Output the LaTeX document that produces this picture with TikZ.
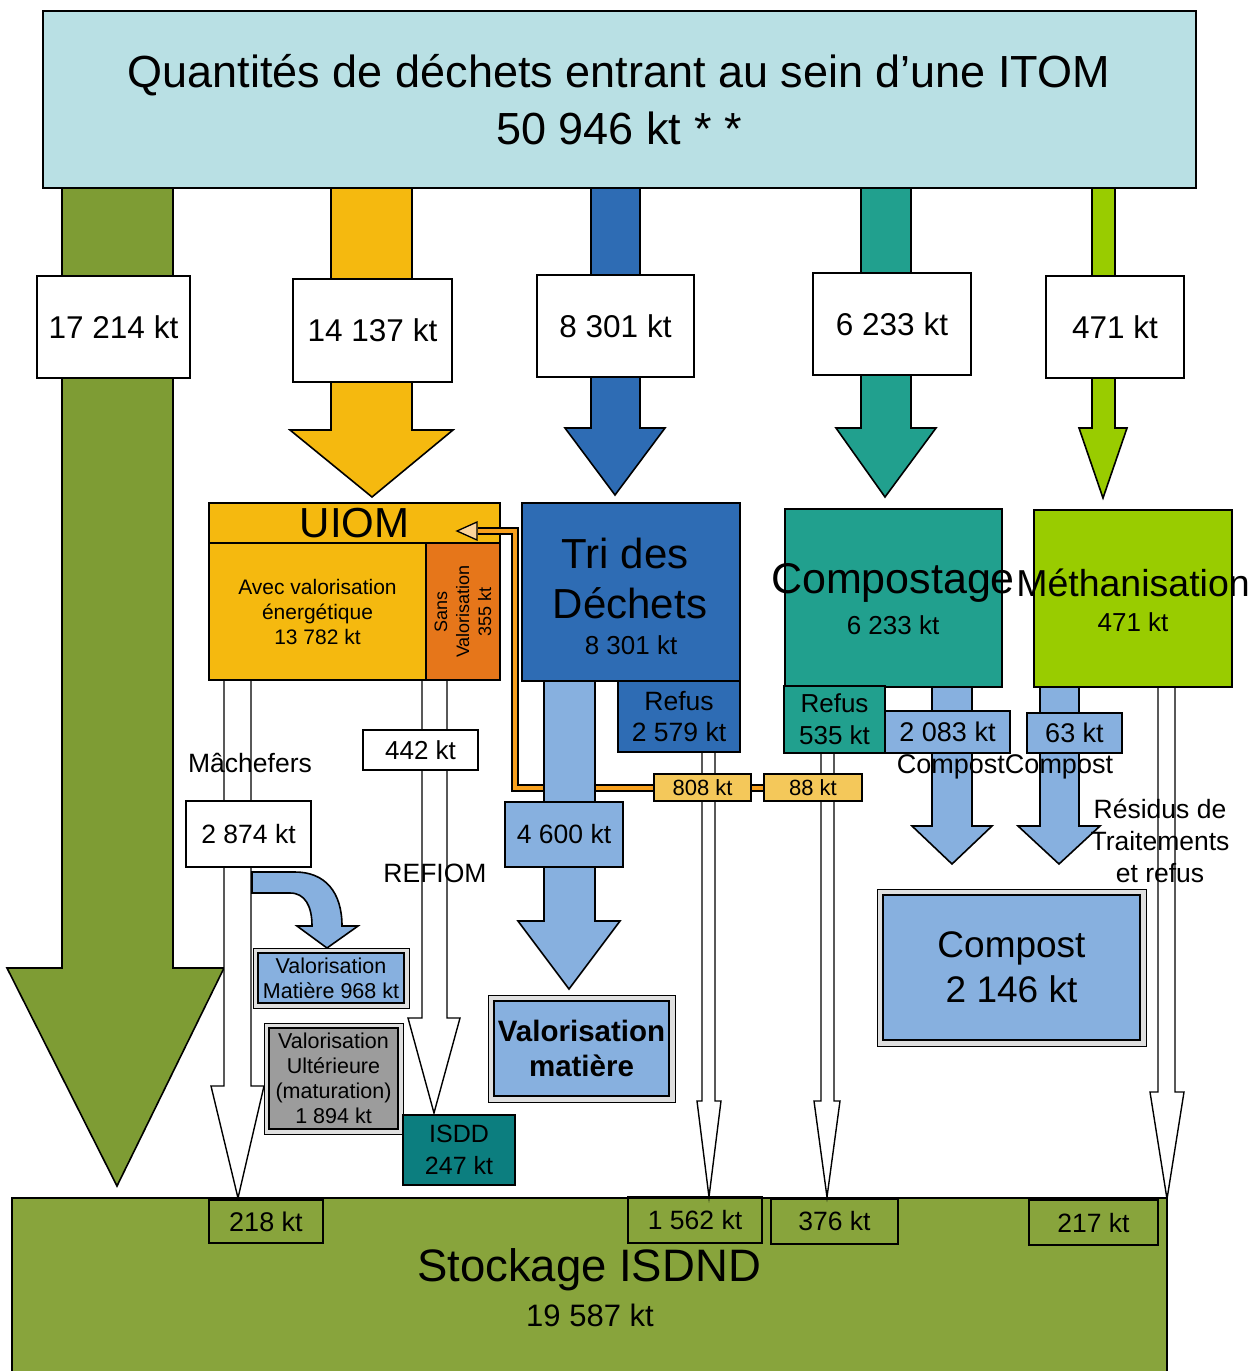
\documentclass[tikz,border=0pt]{standalone}
\usepackage{fontspec}
\setmainfont{Liberation Sans}
\definecolor{titlebg}{HTML}{B9E0E4}
\definecolor{olivegreen}{HTML}{7E9C34}
\definecolor{uiomyel}{HTML}{F5B90F}
\definecolor{sansorange}{HTML}{E6761A}
\definecolor{tribleu}{HTML}{2E6CB4}
\definecolor{compteal}{HTML}{21A08E}
\definecolor{methlime}{HTML}{99CC00}
\definecolor{lightbl}{HTML}{87B0DF}
\definecolor{kbox}{HTML}{F4C85A}
\definecolor{retorange}{HTML}{F7A01E}
\definecolor{isddteal}{HTML}{0C7E7F}
\definecolor{ultgray}{HTML}{9C9C9C}
\definecolor{stockgreen}{HTML}{88A43C}
\newcommand{\fsz}[2]{\fontsize{#1}{#2}\selectfont}
\newcommand{\bx}[7][]{%
  \pgfmathsetmacro{\bxcx}{(#3+#5)/2}%
  \pgfmathsetmacro{\bxcy}{(#4+#6)/2}%
  \pgfmathsetmacro{\bxw}{#5-#3}%
  \pgfmathsetmacro{\bxh}{#6-#4}%
  \node[#1, minimum width=\bxw pt, minimum height=\bxh pt, inner sep=0pt, align=center] (#2) at (\bxcx,\bxcy) {#7};}
\tikzset{
  outl/.style={draw=black, line width=1.6pt, line join=miter},
  thin/.style={draw=black, line width=1pt},
  thick/.style={draw=black, line width=2.6pt},
  lbl/.style={outl, line width=1.3pt, fill=white, font=\fsz{31.5}{36}},
  hollow/.style={draw=black, line width=1.4pt, fill=white, line join=miter},
  txt/.style={inner sep=0pt, align=center},
}
\begin{document}
\begin{tikzpicture}[x=1pt,y=-1pt]
\useasboundingbox (0,0) rectangle (1251,1371);
% ---- Stockage ISDND
\draw[outl, fill=stockgreen] (12,1380) -- (12,1198) -- (1167,1198) -- (1167,1380);
% ---- Title
\bx[outl, fill=titlebg]{title}{43}{11}{1196}{188}{}
\node[txt, font=\fsz{45}{50}] (t1) at (619,75) {Quantités de déchets entrant au sein d’une ITOM};
\node[txt, font=\fsz{45}{50}] (t2) at (619,128) {50 946 kt * *};
% ---- big arrows
\draw[outl, fill=olivegreen] (62,188) -- (173,188) -- (173,968) -- (224,968) -- (117,1186) -- (7,968) -- (62,968) -- cycle;
\draw[outl, fill=uiomyel] (331,188) -- (412,188) -- (412,430) -- (453,430) -- (372,497) -- (290,430) -- (331,430) -- cycle;
\draw[outl, fill=tribleu] (591,188) -- (640,188) -- (640,428) -- (665,428) -- (615,495) -- (565,428) -- (591,428) -- cycle;
\draw[outl, fill=compteal] (861,188) -- (911,188) -- (911,428) -- (936,428) -- (885,497) -- (836,428) -- (861,428) -- cycle;
\draw[outl, fill=methlime] (1092,188) -- (1115,188) -- (1115,428) -- (1127,428) -- (1103,498) -- (1079,428) -- (1092,428) -- cycle;
\bx[lbl]{l1}{37}{276}{190}{378}{17 214 kt}
\bx[lbl]{l2}{293}{279}{452}{382}{14 137 kt}
\bx[lbl]{l3}{537}{275}{694}{377}{8 301 kt}
\bx[lbl]{l4}{813}{273}{971}{375}{6 233 kt}
\bx[lbl]{l5}{1046}{276}{1184}{378}{471 kt}
% ---- hollow white arrows
\draw[hollow] (224,680) -- (224,1086) -- (211,1086) -- (238,1198) -- (264,1086) -- (251,1086) -- (251,680) -- cycle;
\draw[hollow] (422,680) -- (422,1018) -- (408,1018) -- (434,1113) -- (460,1018) -- (447,1018) -- (447,680) -- cycle;
\draw[hollow] (702,752) -- (702,1101) -- (697,1101) -- (709,1197) -- (721,1101) -- (715,1101) -- (715,752) -- cycle;
\draw[hollow] (821,753) -- (821,1101) -- (814,1101) -- (827,1197) -- (840,1101) -- (834,1101) -- (834,753) -- cycle;
\draw[hollow] (1158,687) -- (1158,1092) -- (1150,1092) -- (1167,1199) -- (1184,1092) -- (1175,1092) -- (1175,687) -- cycle;
% ---- UIOM
\bx[outl, fill=uiomyel, font=\fsz{42}{50}]{uiom}{209}{503}{500}{543}{UIOM}
\bx[outl, fill=uiomyel, font=\fsz{21}{25}]{avec}{209}{543}{426}{680}{Avec valorisation\\énergétique\\13 782 kt}
\bx[outl, fill=sansorange]{sans}{426}{543}{500}{680}{}
\node[txt, rotate=90, font=\fsz{18}{22}] (sanstxt) at (sans.center) {Sans\\Valorisation\\355 kt};
% ---- orange return
\coordinate (r0) at (656,788);
\coordinate (r1) at (515,788);
\coordinate (r2) at (515,531);
\coordinate (r3) at (478,531);
\draw[line width=7.5pt, black, line join=miter] (r0) -- (r1) -- (r2) -- (r3);
\draw[line width=4.5pt, retorange, line join=miter] (r0) -- (r1) -- (r2) -- (r3);
\draw[line width=7.5pt, black] (749,788) -- (766,788);
\draw[line width=4.5pt, retorange] (749,788) -- (766,788);
\draw[line width=1.3pt, fill=retorange!45, line join=miter] (477,522) -- (457,531) -- (477,540) -- cycle;
% ---- Tri des déchets
\bx[outl, fill=tribleu]{tri}{522}{503}{740}{681}{}
\node[txt, font=\fsz{42}{48}] (tri1) at (625,553) {Tri des};
\node[txt, font=\fsz{42}{48}] (tri2) at (630,603) {Déchets};
\node[txt, font=\fsz{26}{30}] (tri3) at (631,645) {8 301 kt};
\bx[outl, fill=tribleu, font=\fsz{26.5}{31}]{refustri}{618}{681}{740}{752}{Refus\\2 579 kt}
% ---- Compostage
\bx[outl, fill=compteal]{compo}{785}{509}{1002}{687}{}
\bx[outl, fill=compteal, font=\fsz{26}{32}]{refuscomp}{784}{686}{885}{753}{Refus\\535 kt}
% ---- Methanisation
\bx[outl, fill=methlime]{meth}{1034}{510}{1232}{687}{}
% ---- light blue flows
\draw[outl, fill=lightbl] (544,681) -- (595,681) -- (595,921) -- (620,921) -- (569,989) -- (518,921) -- (544,921) -- cycle;
\bx[outl, fill=lightbl, font=\fsz{26.5}{30}]{k4600}{505}{802}{623}{867}{4 600 kt}
\draw[outl, fill=lightbl] (932,687) -- (972,687) -- (972,826) -- (992,826) -- (952,864) -- (912,826) -- (932,826) -- cycle;
\bx[outl, fill=lightbl, font=\fsz{27}{30}]{k2083}{885}{711}{1010}{753}{2 083 kt}
\draw[outl, fill=lightbl] (1040,687) -- (1079,687) -- (1079,826) -- (1100,826) -- (1059,864) -- (1018,826) -- (1040,826) -- cycle;
\bx[outl, fill=lightbl, font=\fsz{27}{30}]{k63}{1027}{713}{1122}{753}{63 kt}
% ---- texts over boxes
\node[txt, font=\fsz{43}{50}] (compot) at (893,583) {Compostage};
\node[txt, font=\fsz{26}{30}] (compon) at (893,625) {6 233 kt};
\node[txt, font=\fsz{37.5}{46}] (metht) at (1133,583) {Méthanisation};
\node[txt, font=\fsz{26}{30}] (methn) at (1133,622) {471 kt};
% ---- 808 / 88
\bx[outl, line width=1.3pt, fill=kbox, font=\fsz{22}{26}]{k808}{654}{774}{751}{801}{808 kt}
\bx[outl, line width=1.3pt, fill=kbox, font=\fsz{22}{26}]{k88}{764}{774}{862}{801}{88 kt}
% ---- UIOM outputs
\bx[lbl, font=\fsz{26}{30}]{k442}{363}{730}{478}{770}{442 kt}
\bx[lbl, font=\fsz{26.5}{30}]{k2874}{186}{801}{311}{867}{2 874 kt}
\draw[outl, fill=lightbl] (252,872) -- (295,872) .. controls (325,872) and (342,892) .. (342,926) -- (358,926) -- (327,948) -- (297,926) -- (312,926) .. controls (312,906) and (305,893) .. (290,893) -- (252,893) -- cycle;
\bx[thin, fill=gray!25]{vmo}{253}{948}{409}{1008}{}
\bx[thick, fill=lightbl, font=\fsz{21.5}{25}]{vm}{258}{953}{404}{1003}{Valorisation\\Matière 968 kt}
\bx[thin, fill=gray!25]{vuo}{264}{1023}{403}{1134}{}
\bx[thick, fill=ultgray, font=\fsz{21.5}{25}]{vu}{269}{1028}{398}{1129}{Valorisation\\Ultérieure\\(maturation)\\1 894 kt}
\bx[outl, fill=isddteal, font=\fsz{25}{32}]{isdd}{403}{1115}{515}{1185}{ISDD\\247 kt}
\bx[thin, fill=gray!25]{vmato}{488}{995}{675}{1102}{}
\bx[thick, fill=lightbl, font=\bfseries\fsz{29.5}{35}]{vmat}{494}{1001}{669}{1096}{Valorisation\\matière}
\bx[thin, fill=gray!25]{compboxo}{877}{889}{1146}{1046}{}
\bx[thick, fill=lightbl, font=\fsz{37}{45}]{compbox}{883}{895}{1140}{1040}{Compost\\2 146 kt}
% ---- free texts
\node[txt, font=\fsz{26.5}{30}] (mach) at (250,763) {Mâchefers};
\node[txt, font=\fsz{26.5}{30}] (refiom) at (435,873) {REFIOM};
\node[txt, font=\fsz{27}{30}] (cc) at (1005,767) {CompostCompost};
\node[txt, font=\fsz{26.5}{32}] (resid) at (1160,841) {Résidus de\\Traitements\\et refus};
% ---- Stockage texts and boxes
\node[txt, font=\fsz{45.5}{50}] (stock) at (589,1270) {Stockage ISDND};
\node[txt, font=\fsz{31}{34}] (stockn) at (590,1315) {19 587 kt};
\bx[outl, line width=1.3pt, font=\fsz{27}{30}]{b218}{209}{1200}{323}{1243}{218 kt}
\bx[outl, line width=1.3pt, font=\fsz{26.5}{30}]{b1562}{628}{1197}{762}{1243}{1 562 kt}
\bx[outl, line width=1.3pt, font=\fsz{26.5}{30}]{b376}{771}{1199}{898}{1244}{376 kt}
\bx[outl, line width=1.3pt, font=\fsz{26.5}{30}]{b217}{1029}{1200}{1158}{1245}{217 kt}
\end{tikzpicture}
\end{document}
